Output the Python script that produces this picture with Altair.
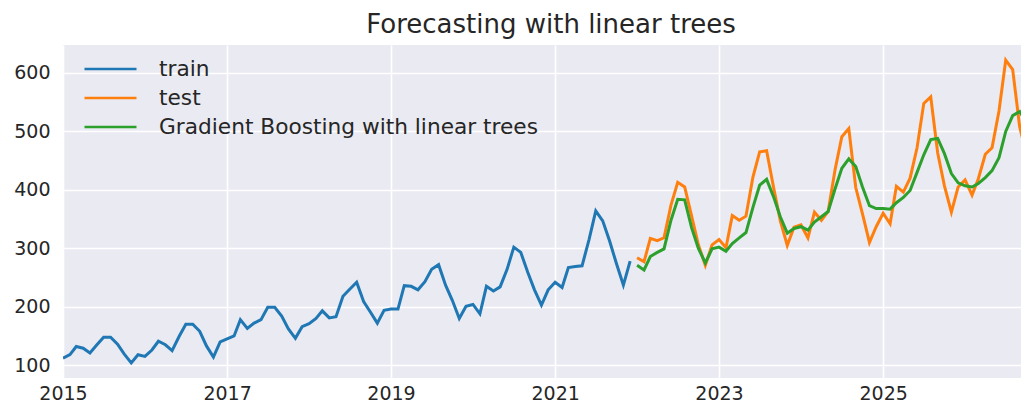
import altair as alt
import pandas as pd

# ---- data ----
train_values = [
    112, 118, 132, 129, 121, 135, 148, 148, 136, 119, 104, 118,
    115, 126, 141, 135, 125, 149, 170, 170, 158, 133, 114, 140,
    145, 150, 178, 163, 172, 178, 199, 199, 184, 162, 146, 166,
    171, 180, 193, 181, 183, 218, 230, 242, 209, 191, 172, 194,
    196, 196, 236, 235, 229, 243, 264, 272, 237, 211, 180, 201,
    204, 188, 235, 227, 234, 264, 302, 293, 259, 229, 203, 229,
    242, 233, 267, 269, 270, 315, 364, 347, 312, 274, 237, 278,
]
test_values = [
    284, 277, 317, 313, 318, 374, 413, 405, 355, 306, 271, 306,
    315, 301, 356, 348, 355, 422, 465, 467, 404, 347, 305, 336,
    340, 318, 362, 348, 363, 435, 491, 505, 404, 359, 310, 337,
    360, 342, 406, 396, 420, 472, 548, 559, 463, 407, 362, 405,
    417, 391, 419, 461, 472, 535, 622, 606, 508, 461, 390, 432,
]
gb_values = [
    271, 263, 286, 293, 299, 348, 384, 383, 335, 300, 275, 299,
    302, 295, 308, 318, 327, 370, 408, 418, 388, 354, 326, 334,
    337, 331, 345, 354, 363, 402, 437, 453, 440, 405, 373, 368,
    368, 367, 378, 387, 399, 430, 460, 486, 488, 462, 428, 412,
    407, 405, 411, 421, 433, 455, 500, 527, 534, 516, 490, 465,
]

series_names = ["train", "test", "Gradient Boosting with linear trees"]
series_colors = ["#1f77b4", "#ff7f0e", "#2ca02c"]
x_tick_years = [2015, 2017, 2019, 2021, 2023, 2025]
y_ticks = [100, 200, 300, 400, 500, 600]

train_dates = pd.date_range("2015-01-01", periods=len(train_values), freq="MS")
test_dates = pd.date_range("2022-01-01", periods=len(test_values), freq="MS")

fmt = "%Y-%m-%dT00:00:00"
df = pd.concat([
    pd.DataFrame({"date": train_dates.strftime(fmt), "value": train_values, "series": series_names[0]}),
    pd.DataFrame({"date": test_dates.strftime(fmt), "value": test_values, "series": series_names[1]}),
    pd.DataFrame({"date": test_dates.strftime(fmt), "value": gb_values, "series": series_names[2]}),
], ignore_index=True)

FONT = "DejaVu Sans"
TXT = "#262626"

base = alt.Chart(df).mark_line(strokeWidth=3, clip=True).encode(
    x=alt.X(
        "date:T",
        scale=alt.Scale(domain=[alt.DateTime(year=2015, month=1, date=1),
                                alt.DateTime(year=2026, month=9, date=7)]),
        axis=alt.Axis(
            values=[alt.DateTime(year=y, month=1, date=1) for y in x_tick_years],
            format="%Y", title=None, labelFlush=False, labelOverlap=False,
            labelPadding=6,
        ),
    ),
    y=alt.Y(
        "value:Q",
        scale=alt.Scale(domain=[78.1, 647.9], nice=False, zero=False),
        axis=alt.Axis(values=y_ticks, title=None, labelPadding=13),
    ),
    color=alt.Color(
        "series:N",
        scale=alt.Scale(domain=series_names, range=series_colors),
        legend=alt.Legend(
            orient="none", legendX=20, legendY=9.5, direction="vertical",
            title=None, symbolType="stroke", symbolSize=2704,
            symbolStrokeWidth=2.5, labelFont=FONT, labelFontSize=21.7,
            labelColor=TXT, labelOffset=21, labelLimit=700,
            clipHeight=29, rowPadding=0, padding=0,
        ),
    ),
)

layers = [base.transform_filter(alt.datum.series == name) for name in series_names]

chart = alt.layer(*layers).properties(
    width=958,
    height=333,
    autosize=alt.AutoSizeParams(type="none"),
    padding={"left": 55, "top": 37, "right": 0, "bottom": 25},
    title=alt.TitleParams(
        "Forecasting with linear trees", font=FONT, fontSize=26,
        fontWeight="normal", color=TXT, anchor="middle", frame="group",
        baseline="alphabetic", offset=12, dx=9, dy=26,
    ),
).configure_view(
    fill="#EAEAF2", strokeWidth=0,
).configure_axis(
    grid=True, gridColor="#FFFFFF", gridWidth=1.6, domain=False, ticks=False,
    labelFont=FONT, labelFontSize=19, labelColor=TXT,
)

chart.save("out.html", embed_options={"renderer": "svg", "actions": False})
